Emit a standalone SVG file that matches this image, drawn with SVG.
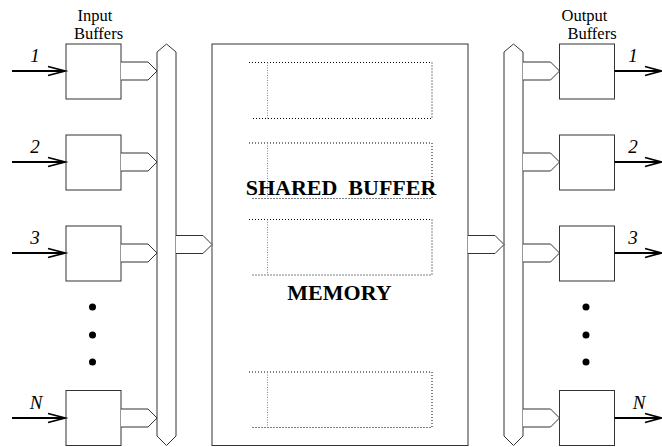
<svg xmlns="http://www.w3.org/2000/svg" width="662" height="447" viewBox="0 0 662 447">
<style>
.box{fill:#fff;stroke:#333;stroke-width:1}
.conn{fill:#fff;stroke:#333;stroke-width:1;stroke-linejoin:miter}
.arr{fill:none;stroke:#000;stroke-width:1.8}
.lbl{font-family:"Liberation Serif","Times New Roman",serif;font-size:16.5px;fill:#000}
.num{font-family:"Liberation Serif","Times New Roman",serif;font-style:italic;font-size:19px;fill:#000}
.big{font-family:"Liberation Serif","Times New Roman",serif;font-weight:bold;font-size:22px;fill:#000}
.dot1{fill:none;stroke:#000;stroke-width:1;stroke-dasharray:1 2}
.dot2{fill:none;stroke:#888;stroke-width:1;stroke-dasharray:1 1.5}
</style>
<text class="lbl" x="95" y="21" text-anchor="middle">Input</text>
<text class="lbl" x="98.5" y="38.5" text-anchor="middle">Buffers</text>
<text class="lbl" x="584.5" y="21" text-anchor="middle">Output</text>
<text class="lbl" x="592" y="38.5" text-anchor="middle">Buffers</text>
<g id="memory">
<rect class="box" x="212" y="44" width="256" height="401.5"/>
<g>
<path class="dot1" d="M249,62.5H432V118.5H251"/><path class="dot2" d="M267.5,62.5V118.5"/>
<path class="dot1" d="M249,143H432V198.5H251"/><path class="dot2" d="M267.5,143V198.5"/>
<path class="dot1" d="M249,219.5H432V275H251"/><path class="dot2" d="M267.5,219.5V275"/>
<path class="dot1" d="M249,372H432V427.5H251"/><path class="dot2" d="M267.5,372V427.5"/>
</g>
<text class="big" x="341" y="195" text-anchor="middle" xml:space="preserve">SHARED  BUFFER</text>
<text class="big" x="339.5" y="300" text-anchor="middle">MEMORY</text>
</g>
<g id="in-bus"><path class="box" d="M157,52L166.5,44L176,52V436L166.5,445.5L157,436Z"/></g>
<g id="out-bus"><path class="box" d="M504,52L513.5,44L523,52V436L513.5,445.5L504,436Z"/></g>
<g id="in1"><rect class="box" x="66" y="44" width="55" height="55"/></g>
<g id="in2"><rect class="box" x="66" y="135" width="55" height="55"/></g>
<g id="in3"><rect class="box" x="66" y="226" width="55" height="55"/></g>
<g id="inN"><rect class="box" x="66" y="390.5" width="55" height="55"/></g>
<g id="out1"><rect class="box" x="559.5" y="44" width="55" height="55"/></g>
<g id="out2"><rect class="box" x="559.5" y="135" width="55" height="55"/></g>
<g id="out3"><rect class="box" x="559.5" y="226" width="55" height="55"/></g>
<g id="outN"><rect class="box" x="559.5" y="390.5" width="55" height="55"/></g>
<g id="dots">
<circle cx="92.5" cy="307" r="3.5"/><circle cx="92.5" cy="335" r="3.5"/><circle cx="92.5" cy="362" r="3.5"/>
<circle cx="586" cy="307" r="3.5"/><circle cx="586" cy="335" r="3.5"/><circle cx="586" cy="362" r="3.5"/>
</g>
<g id="connectors">
<path class="conn" d="M121,62H148L157,71L148,80H121"/>
<path class="conn" d="M121,153H148L157,162L148,171H121"/>
<path class="conn" d="M121,244H148L157,253L148,262H121"/>
<path class="conn" d="M121,409H148L157,418L148,427H121"/>
<path class="conn" d="M176,235.5H203L212,244.5L203,253.5H176"/>
<path class="conn" d="M468,235.5H495L504,244.5L495,253.5H468"/>
<path class="conn" d="M523,62H550.5L559.5,71L550.5,80H523"/>
<path class="conn" d="M523,153H550.5L559.5,162L550.5,171H523"/>
<path class="conn" d="M523,244H550.5L559.5,253L550.5,262H523"/>
<path class="conn" d="M523,409H550.5L559.5,418L550.5,427H523"/>
<g>
<path class="arr" d="M12,71H65M48,66.5L65,71L48,75.5"/>
<path class="arr" d="M12,162H65M48,157.5L65,162L48,166.5"/>
<path class="arr" d="M12,253H65M48,248.5L65,253L48,257.5"/>
<path class="arr" d="M12,418H65M48,413.5L65,418L48,422.5"/>
<path class="arr" d="M614.5,71H661M645,66.5L661,71L645,75.5"/>
<path class="arr" d="M614.5,162H661M645,157.5L661,162L645,166.5"/>
<path class="arr" d="M614.5,253H661M645,248.5L661,253L645,257.5"/>
<path class="arr" d="M614.5,418H661M645,413.5L661,418L645,422.5"/>
</g>
<text class="num" x="35" y="62" text-anchor="middle">1</text>
<text class="num" x="35" y="153" text-anchor="middle">2</text>
<text class="num" x="35" y="244" text-anchor="middle">3</text>
<text class="num" x="36" y="409" text-anchor="middle">N</text>
<text class="num" x="633" y="62" text-anchor="middle">1</text>
<text class="num" x="633" y="153" text-anchor="middle">2</text>
<text class="num" x="633" y="244" text-anchor="middle">3</text>
<text class="num" x="639" y="409" text-anchor="middle">N</text>
</g>
</svg>
